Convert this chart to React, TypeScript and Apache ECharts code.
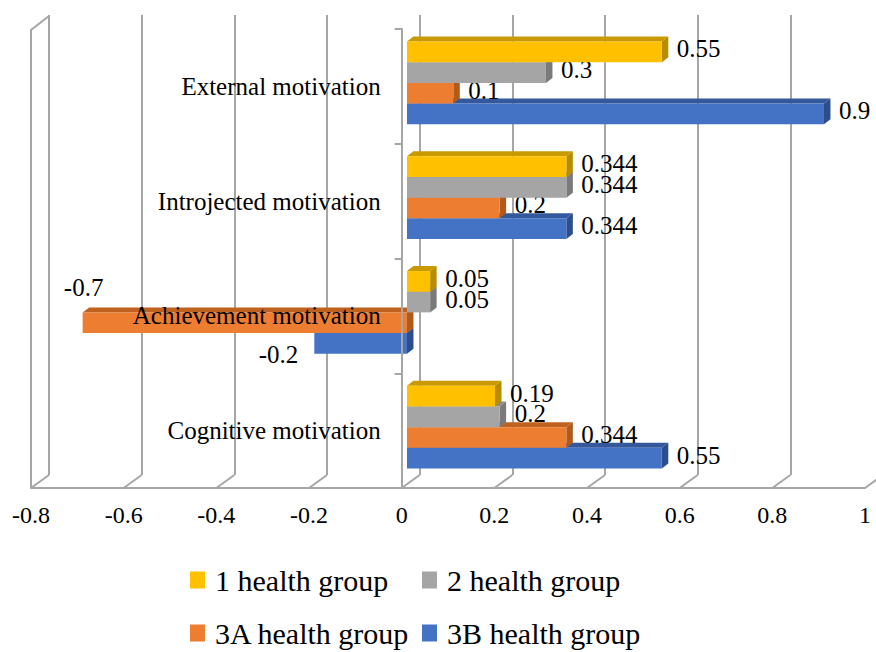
import React, { useEffect, useRef } from "react";
import * as echarts from "echarts";

const categories = [
  "External motivation",
  "Introjected motivation",
  "Achievement motivation",
  "Cognitive motivation",
];
const seriesNames = ["1 health group", "2 health group", "3A health group", "3B health group"];
const group1 = [0.55, 0.344, 0.05, 0.19];
const group2 = [0.3, 0.344, 0.05, 0.2];
const group3A = [0.1, 0.2, -0.7, 0.344];
const group3B = [0.9, 0.344, -0.2, 0.55];
const xMin = -0.8;
const xMax = 1;
const xStep = 0.2;

const COLORS = ["#FFC000", "#A5A5A5", "#ED7D31", "#4472C4"];
const TOPS = ["#C89A00", "#8A8A8A", "#C0621F", "#34589C"];
const SIDES = ["#B88C00", "#7A7A7A", "#B05A1C", "#2D4E8C"];
const FONT = '"Liberation Serif", "Times New Roman", serif';
const GRAY = "#A6A6A6";

// layout
const FL = 31; // front left
const FT = 29;
const FW = 834;
const FH = 459;
const DX = 18; // wall depth offset
const DY = 13;

const negPlacement: Record<string, string> = {
  "3A health group": "above",
  "3B health group": "below",
};

function makeSeries(idx: number, values: number[]) {
  const name = seriesNames[idx];
  return {
    type: "custom",
    name,
    xAxisIndex: 0,
    yAxisIndex: 0,
    z: 10 - idx,
    itemStyle: { color: COLORS[idx] },
    encode: { x: 1, y: 0 },
    data: values.map((v, i) => [i, v]),
    renderItem: (params: any, api: any) => {
      const ci = api.value(0);
      const v = api.value(1);
      const p0 = api.coord([0, ci]);
      const p1 = api.coord([v, ci]);
      const bandH = api.size([0, 1])[1];
      const bh = bandH * 0.18;
      const sx = 5.3;
      const sy = -3.5;
      const dx = 6.5;
      const dy = 5;
      const y = p0[1] + sy - 2 * bh + idx * bh;
      const a = p0[0] + sx;
      const b = p1[0] + sx;
      const left = Math.min(a, b);
      const right = Math.max(a, b);
      const children: any[] = [
        {
          type: "polygon",
          shape: { points: [[left, y], [right, y], [right + dx, y - dy], [left + dx, y - dy]] },
          style: { fill: TOPS[idx] },
        },
        {
          type: "polygon",
          shape: { points: [[right, y], [right + dx, y - dy], [right + dx, y + bh - dy], [right, y + bh]] },
          style: { fill: SIDES[idx] },
        },
        {
          type: "rect",
          shape: { x: left, y, width: right - left, height: bh },
          style: { fill: COLORS[idx] },
        },
      ];
      let tx = right + dx + 8.5;
      let ty = y + bh / 2 - 3;
      let align = "left";
      if (v < 0) {
        if (negPlacement[name] === "above") {
          tx = left + 1;
          ty = y - dy - 20;
          align = "center";
        } else {
          tx = left - 16;
          ty = y + bh + 1;
          align = "right";
        }
      }
      children.push({
        type: "text",
        z2: 50,
        style: {
          text: String(v),
          x: tx,
          y: ty,
          fill: "#000",
          fontSize: 25,
          fontFamily: FONT,
          align,
          verticalAlign: "middle",
        },
      });
      return { type: "group", children };
    },
  };
}

function legendAt(name: string, left: number, top: number) {
  return {
    data: [name],
    left,
    top,
    itemWidth: 15,
    itemHeight: 17,
    icon: "rect",
    padding: 0,
    textStyle: { fontSize: 30, fontFamily: FONT, color: "#000", padding: [0, 0, 0, 5] },
  };
}

export default function App() {
  const ref = useRef<HTMLDivElement>(null);
  useEffect(() => {
    if (!ref.current) return;
    const chart = echarts.init(ref.current, undefined, { renderer: "svg" });
    const nTicks = Math.round((xMax - xMin) / xStep);
    const step = FW / nTicks;
    const zeroOffset = ((0 - xMin) / (xMax - xMin)) * FW;
    const graphics: any[] = [];
    graphics.push({
      type: "polyline",
      shape: { points: [[FL, FT + FH], [FL, FT + 1], [FL + DX, FT - DY]] },
      style: { stroke: GRAY, lineWidth: 2, fill: "none" },
      z: 1,
    });
    for (let i = 0; i <= nTicks; i++) {
      const x = FL + i * step;
      graphics.push({
        type: "line",
        shape: { x1: x, y1: FT + FH, x2: x + DX, y2: FT + FH - DY },
        style: { stroke: GRAY, lineWidth: 2 },
        z: 1,
      });
    }
    chart.setOption({
      animation: false,
      grid: [
        { left: FL, top: FT, width: FW, height: FH, containLabel: false, outerBoundsMode: "none" },
        { left: FL + DX, top: FT - DY - 1, width: FW, height: FH + 1, containLabel: false, outerBoundsMode: "none" },
      ],
      xAxis: [
        {
          gridIndex: 0,
          type: "value",
          min: xMin,
          max: xMax,
          interval: xStep,
          axisLine: { show: true, onZero: false, lineStyle: { color: GRAY, width: 2 } },
          axisTick: { show: false },
          splitLine: { show: false },
          axisLabel: { fontSize: 24, fontFamily: FONT, color: "#000", margin: 15 },
        },
        {
          gridIndex: 1,
          type: "value",
          min: xMin,
          max: xMax,
          interval: xStep,
          axisLine: { show: false },
          axisTick: { show: false },
          axisLabel: { show: false },
          splitLine: { show: true, lineStyle: { color: GRAY, width: 2 } },
          z: 0,
        },
      ],
      yAxis: [
        {
          gridIndex: 0,
          type: "category",
          inverse: true,
          data: categories,
          position: "left",
          offset: -zeroOffset,
          axisLine: { show: true, onZero: false, lineStyle: { color: GRAY, width: 2 } },
          axisTick: { show: true, length: 7, lineStyle: { color: GRAY, width: 2 } },
          axisLabel: { fontSize: 25, fontFamily: FONT, color: "#000", margin: 21 },
          z: 20,
        },
        {
          gridIndex: 1,
          type: "value",
          show: false,
          splitLine: { show: false },
        },
      ],
      legend: [
        legendAt(seriesNames[0], 190, 565),
        legendAt(seriesNames[1], 422, 565),
        legendAt(seriesNames[2], 190, 618),
        legendAt(seriesNames[3], 422, 618),
      ],
      graphic: graphics,
      series: [
        makeSeries(0, group1),
        makeSeries(1, group2),
        makeSeries(2, group3A),
        makeSeries(3, group3B),
      ],
    });
    return () => chart.dispose();
  }, []);
  return (
    <div
      ref={ref}
      style={{ position: "fixed", left: 0, top: 0, width: 876, height: 652, background: "#fff" }}
    />
  );
}
